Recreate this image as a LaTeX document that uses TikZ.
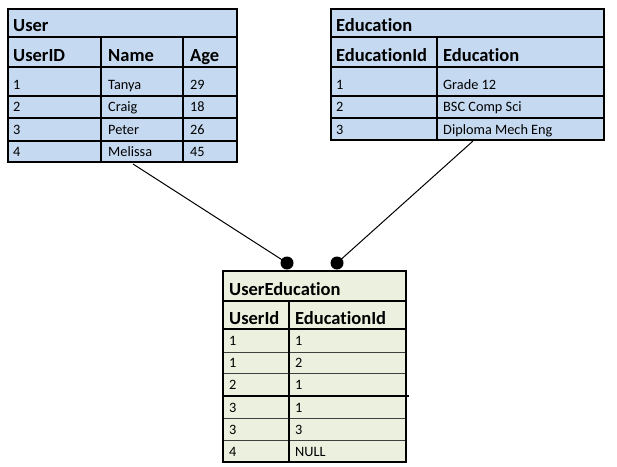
\documentclass[tikz,border=0pt]{standalone}
\usepackage{fontspec}
\setmainfont[Ligatures=NoCommon]{Carlito}
\definecolor{tblue}{RGB}{197,217,241}
\definecolor{tgreen}{RGB}{235,241,222}
\begin{document}
\begin{tikzpicture}[x=1pt,y=-1pt,
  outer/.style={line width=2pt},
  inner/.style={line width=1.3pt},
  thinline/.style={line width=0.9pt},
  ttl/.style={anchor=base west, inner sep=0pt, font=\fontsize{18.5}{20}\selectfont\bfseries},
  dat/.style={anchor=base west, inner sep=0pt, font=\fontsize{14.3}{16}\selectfont},
  dotnode/.style={circle, fill=black, draw=none, inner sep=0pt, minimum size=13pt},
  conn/.style={line width=1pt}]
\useasboundingbox[fill=white] (0,0) rectangle (617,466);

% ---------- User table ----------
\fill[tblue] (8,9) rectangle (237,162);
\foreach \yy in {37,67,96,118,141} \draw[inner] (8,\yy) -- (237,\yy);
\foreach \xx in {101,183} \draw[inner] (\xx,37) -- (\xx,162);
\draw[outer] (8,9) rectangle (237,162);
\node[ttl] (uT) at (13,31) {User};
\node[ttl] (uH1) at (13,61) {UserID};
\node[ttl] (uH2) at (108,61) {Name};
\node[ttl] (uH3) at (190,61) {Age};
\node[dat] (u11) at (13,89.5) {1};   \node[dat] (u12) at (108,89.5) {Tanya};   \node[dat] (u13) at (190,89.5) {29};
\node[dat] (u21) at (13,111.5) {2};  \node[dat] (u22) at (108,111.5) {Craig};  \node[dat] (u23) at (190,111.5) {18};
\node[dat] (u31) at (13,134.5) {3};  \node[dat] (u32) at (108,134.5) {Peter};  \node[dat] (u33) at (190,134.5) {26};
\node[dat] (u41) at (13,156.5) {4};  \node[dat] (u42) at (108,156.5) {Melissa};\node[dat] (u43) at (190,156.5) {45};

% ---------- Education table ----------
\fill[tblue] (331,9) rectangle (604,140);
\foreach \yy in {37,67,96,118} \draw[inner] (331,\yy) -- (604,\yy);
\draw[inner] (437,37) -- (437,140);
\draw[outer] (331,9) rectangle (604,140);
\node[ttl] (eT) at (336,31) {Education};
\node[ttl] (eH1) at (336,61) {EducationId};
\node[ttl] (eH2) at (443,61) {Education};
\node[dat] (e11) at (336,89.5) {1};  \node[dat] (e12) at (443,89.5) {Grade 12};
\node[dat] (e21) at (336,111.5) {2}; \node[dat] (e22) at (443,111.5) {BSC Comp Sci};
\node[dat] (e31) at (336,134.5) {3}; \node[dat] (e32) at (443,134.5) {Diploma Mech Eng};

% ---------- UserEducation table ----------
\fill[tgreen] (223,271) rectangle (406,462);
\draw[inner] (223,301) -- (406,301);
\draw[inner] (223,329) -- (406,329);
\foreach \yy in {352,373,418,440} \draw[thinline, black!75] (223,\yy) -- (406,\yy);
\draw[inner] (223,396) -- (409,396);
\draw[inner] (289,301) -- (289,462);
\draw[outer] (223,271) rectangle (406,462);
\node[ttl] (ueT) at (229,295) {UserEducation};
\node[ttl] (ueH1) at (229,324) {UserId};
\node[ttl] (ueH2) at (295,324) {EducationId};
\node[dat] (ue11) at (229,345.5) {1}; \node[dat] (ue12) at (295,345.5) {1};
\node[dat] (ue21) at (229,367.5) {1}; \node[dat] (ue22) at (295,367.5) {2};
\node[dat] (ue31) at (229,389.5) {2}; \node[dat] (ue32) at (295,389.5) {1};
\node[dat] (ue41) at (229,412.5) {3}; \node[dat] (ue42) at (295,412.5) {1};
\node[dat] (ue51) at (229,434.5) {3}; \node[dat] (ue52) at (295,434.5) {3};
\node[dat] (ue61) at (229,456.5) {4}; \node[dat] (ue62) at (295,456.5) {NULL};

% ---------- connectors ----------
\coordinate (userEnd) at (133,164);
\coordinate (eduEnd) at (473,141);
\node[dotnode] (dotU) at (287,263) {};
\node[dotnode] (dotE) at (337,263) {};
\draw[conn] (userEnd) -- (dotU.center);
\draw[conn] (eduEnd) -- (dotE.center);
\end{tikzpicture}
\end{document}
